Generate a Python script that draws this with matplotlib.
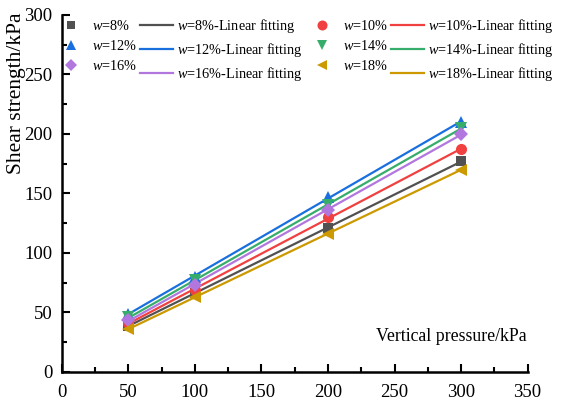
import numpy as np
import matplotlib
matplotlib.use('Agg')
import matplotlib.pyplot as plt
from matplotlib.ticker import MultipleLocator

plt.rcParams['font.family'] = ['Liberation Serif', 'DejaVu Serif']
plt.rcParams['mathtext.fontset'] = 'custom'
plt.rcParams['mathtext.it'] = 'Liberation Serif:italic'
plt.rcParams['mathtext.rm'] = 'Liberation Serif'

pressure = [50, 100, 200, 300]
w_labels = ['8%', '10%', '12%', '14%', '16%', '18%']
w8 = [39, 66, 121, 177]
w10 = [41, 69, 130, 187]
w12 = [49, 80, 147, 210]
w14 = [46, 77, 140, 205]
w16 = [44, 73, 136, 200]
w18 = [36, 63, 116, 170]

series = [w8, w10, w12, w14, w16, w18]
colors = ['#515151', '#F14040', '#1A6FDF', '#37AD6B', '#B177DE', '#CC9900']
markers = ['s', 'o', '^', 'v', 'D', '<']
msizes = [7, 8, 8.5, 8.5, 7, 8.5]

fig = plt.figure(figsize=(5.63, 4.03), dpi=100)
ax = fig.add_axes([0.110, 0.077, 0.827, 0.886])

pts = {}
fits = {}
x = np.array(pressure)
for lab, vals, c, m, ms in zip(w_labels, series, colors, markers, msizes):
    k, b = np.polyfit(x, vals, 1)
    fits[lab], = ax.plot(x, k * x + b, color=c, lw=1.6, zorder=2)
    pts[lab], = ax.plot(x, vals, linestyle='none', marker=m, color=c,
                        markersize=ms, markeredgewidth=0, zorder=3)

# legend is filled column by column, so order handles to get the row layout
order = [('8%', '12%', '16%'), ('10%', '14%', '18%')]
handles = []
labels = []
for group in order:
    for lab in group:
        handles.append(pts[lab])
        labels.append('$w$=' + lab)
    for lab in group:
        handles.append(fits[lab])
        labels.append('$w$=' + lab + '-Linear fitting')
ax.legend(handles, labels, ncol=4, loc='upper left', bbox_to_anchor=(-0.016, 0.993),
          frameon=False, fontsize=10.3, handlelength=2.3, handletextpad=0.3,
          columnspacing=0.2, labelspacing=0.42, borderpad=0, borderaxespad=0,
          markerscale=0.9)

ax.set_xlim(0, 350)
ax.set_ylim(0, 300)
ax.xaxis.set_major_locator(MultipleLocator(50))
ax.xaxis.set_minor_locator(MultipleLocator(25))
ax.yaxis.set_major_locator(MultipleLocator(50))
ax.yaxis.set_minor_locator(MultipleLocator(25))
ax.tick_params(which='both', direction='in', width=1.5, labelsize=13.5)
ax.tick_params(which='major', length=6)
ax.tick_params(which='minor', length=3.5)
ax.tick_params(axis='x', pad=9)
ax.tick_params(axis='y', pad=7)
for s in ['top', 'right']:
    ax.spines[s].set_visible(False)
for s in ['left', 'bottom']:
    ax.spines[s].set_linewidth(1.8)

ax.set_ylabel('Shear strength/kPa', fontsize=15.5, va='center')
ax.yaxis.set_label_coords(-0.097, 0.78)
ax.text(0.998, 0.10, 'Vertical pressure/kPa', transform=ax.transAxes,
        ha='right', va='center', fontsize=12.8)

fig.savefig('out.png', dpi=100)
